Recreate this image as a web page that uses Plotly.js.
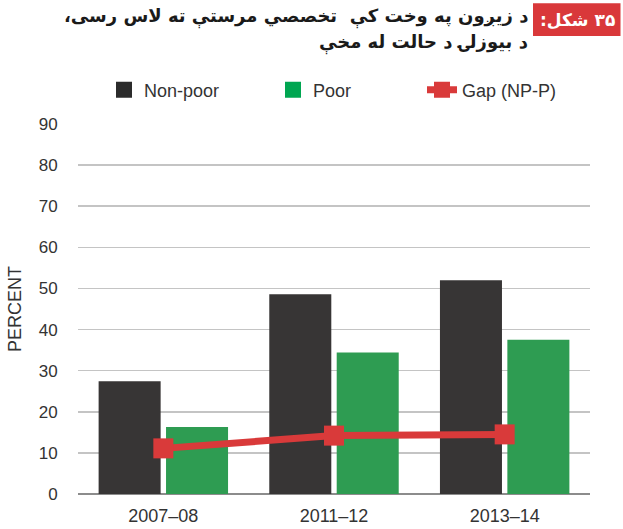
<!DOCTYPE html>
<html>
<head>
<meta charset="utf-8">
<script src="https://cdn.plot.ly/plotly-3.0.1.min.js"></script>
<style>html,body{margin:0;padding:0;background:#fff;}#chart{width:623px;height:529px;}</style>
</head>
<body>
<div id="chart"></div>
<script>
// ---- data ----
const categories = ["2007–08", "2011–12", "2013–14"];
const nonPoor = [27.4, 48.6, 52.0];
const poor = [16.3, 34.4, 37.5];
const gap = [11.1, 14.2, 14.5];
const seriesNames = ["Non-poor", "Poor", "Gap (NP-P)"];
const yTicks = [0, 10, 20, 30, 40, 50, 60, 70, 80, 90];
const titleLines = ["د زیږون په وخت کې  تخصصي مرستې ته لاس رسی،", "د بیوزلۍ د حالت له مخې"];
const figureLabel = "۳۵ شکل:";
const yTitle = "PERCENT";

// ---- layout helpers (pixel -> paper) ----
const W = 623, H = 529;
const M = {l: 78, r: 33, t: 124, b: 34.5};
const pw = W - M.l - M.r, ph = H - M.t - M.b;
const px = x => (x - M.l) / pw;
const py = y => (H - M.b - y) / ph;
const rtl = s => "\u202B" + s + "\u202C";

const cNP = "#373535", cP = "#2e9c52", cGap = "#d93a3a";
const font = "Liberation Sans, Arial, sans-serif";
const arFont = "DejaVu Sans, sans-serif";

const traces = [
  {type: "bar", x: categories, y: nonPoor, name: seriesNames[0], marker: {color: cNP}, showlegend: false, hoverinfo: "y"},
  {type: "bar", x: categories, y: poor, name: seriesNames[1], marker: {color: cP}, showlegend: false, hoverinfo: "y"},
  {type: "scatter", mode: "lines+markers", x: categories, y: gap, name: seriesNames[2],
   line: {color: cGap, width: 7}, marker: {symbol: "square", size: 20, color: cGap}, showlegend: false},
  // legend entries
  {type: "scatter", mode: "markers", x: [null], y: [null], name: seriesNames[0], legend: "legend",
   marker: {symbol: "square", size: 17, color: "#2b2b2b"}},
  {type: "scatter", mode: "markers", x: [null], y: [null], name: seriesNames[1], legend: "legend2",
   marker: {symbol: "square", size: 17, color: "#00a651"}},
  {type: "scatter", mode: "lines+markers", x: [null], y: [null], name: seriesNames[2], legend: "legend3",
   line: {color: cGap, width: 7}, marker: {symbol: "square", size: 17, color: cGap}}
];

const legendBase = {orientation: "h", xref: "container", yref: "container", xanchor: "left", yanchor: "middle",
  font: {family: font, size: 18, color: "#333"}, bgcolor: "rgba(0,0,0,0)", borderwidth: 0};

const layout = {
  width: W, height: H,
  margin: M,
  paper_bgcolor: "#fff", plot_bgcolor: "#fff",
  font: {family: font, color: "#333"},
  bargap: 0.21, bargroupgap: 0.08, barmode: "group",
  xaxis: {
    type: "category", showgrid: false, zeroline: false, showline: false,
    ticks: "outside", ticklen: 5, tickcolor: "rgba(0,0,0,0)",
    tickfont: {family: font, size: 18, color: "#333"}, fixedrange: true
  },
  yaxis: {
    range: [0, 90], tickvals: yTicks, ticktext: yTicks.map(String),
    showgrid: true, gridcolor: "#c4c4c4", gridwidth: 1.5,
    zeroline: true, zerolinecolor: "#8c8c8c", zerolinewidth: 2,
    ticks: "outside", ticklen: 16, tickcolor: "rgba(0,0,0,0)",
    tickfont: {family: font, size: 17, color: "#333"},
    title: {text: yTitle, font: {family: font, size: 18, color: "#333"}, standoff: 12}, fixedrange: true
  },
  legend: Object.assign({}, legendBase, {x: 104 / W, y: 1 - 90 / H}),
  legend2: Object.assign({}, legendBase, {x: 273 / W, y: 1 - 90 / H}),
  legend3: Object.assign({}, legendBase, {x: 422 / W, y: 1 - 90 / H}),
  shapes: [
    {type: "rect", xref: "paper", yref: "paper", x0: px(533), x1: px(620.5), y0: py(36), y1: py(3),
     fillcolor: "#d9383a", line: {width: 0}, layer: "above"}
  ],
  annotations: [
    {xref: "paper", yref: "paper", x: px(577), y: py(19.5), xanchor: "center", yanchor: "middle",
     text: "<b>" + rtl(figureLabel) + "</b>", showarrow: false, font: {family: arFont, size: 17, color: "#fff"}},
    {xref: "paper", yref: "paper", x: px(530), y: py(17), xanchor: "right", yanchor: "middle", align: "right",
     text: "<b>" + rtl(titleLines[0]) + "</b>", showarrow: false, font: {family: arFont, size: 18, color: "#1a1a1a"}},
    {xref: "paper", yref: "paper", x: px(530), y: py(43), xanchor: "right", yanchor: "middle", align: "right",
     text: "<b>" + rtl(titleLines[1]) + "</b>", showarrow: false, font: {family: arFont, size: 18, color: "#1a1a1a"}}
  ]
};

Plotly.newPlot("chart", traces, layout, {displayModeBar: false, staticPlot: true});
</script>
</body>
</html>
